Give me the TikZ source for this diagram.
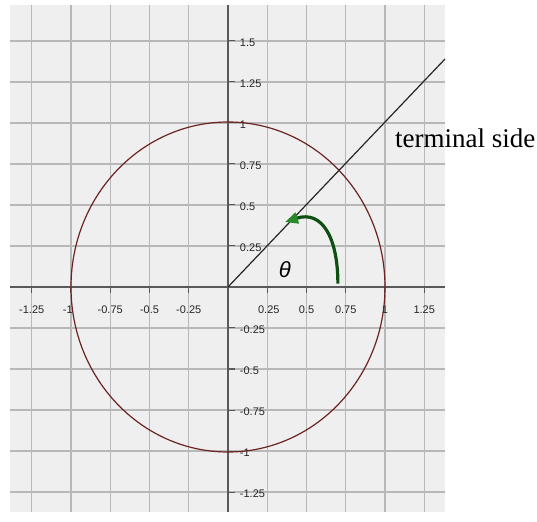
\documentclass[tikz,border=0pt]{standalone}
\usepackage{fontspec}
\setmainfont{Liberation Serif}
\newfontfamily\axisfont{Liberation Sans}
\usetikzlibrary{arrows.meta}
\definecolor{gridbg}{HTML}{EFEFEF}
\definecolor{gridline}{HTML}{B8B8B8}
\definecolor{axiscol}{HTML}{5A5A5A}
\definecolor{circcol}{HTML}{6B2424}
\definecolor{darkgreen}{HTML}{0E4F12}
\definecolor{tipgreen}{HTML}{2A8A2A}
\begin{document}
\begin{tikzpicture}[x=157pt,y=164pt,
  gridln/.style={draw=gridline,line width=1.1pt},
  axisln/.style={draw=axiscol,line width=1.6pt},
  tickln/.style={draw=axiscol,line width=1pt},
  ticklabel/.style={font=\axisfont\fontsize{11}{12}\selectfont,inner sep=0pt,text=black!85},
  unitcirc/.style={draw=circcol,line width=1.2pt},
  termside/.style={draw=black!85,line width=1.2pt},
  anglearrow/.style={draw=darkgreen,line width=3.2pt,-{Triangle[length=13pt,width=11pt,color=tipgreen]}}]
\useasboundingbox[fill=white] (-1.4522,-1.4329) rectangle (1.9682,1.75);
\fill[gridbg] (-1.389,-1.372) rectangle (1.382,1.72);
% grid
\foreach \v in {-1.25,-1,-0.75,-0.5,-0.25,0.25,0.5,0.75,1,1.25}
  \draw[gridln] (\v,-1.372) -- (\v,1.72);
\foreach \v in {-1.25,-1,-0.75,-0.5,-0.25,0.25,0.5,0.75,1,1.25,1.5}
  \draw[gridln] (-1.389,\v) -- (1.382,\v);
% axes
\coordinate (O) at (0,0);
\coordinate (XL) at (-1.389,0);
\coordinate (XR) at (1.382,0);
\coordinate (YB) at (0,-1.372);
\coordinate (YT) at (0,1.72);
\draw[axisln] (XL) -- (XR);
\draw[axisln] (YB) -- (YT);
% ticks
\foreach \v in {-1.25,-1,-0.75,-0.5,-0.25,0.25,0.5,0.75,1,1.25}
  \draw[tickln] (\v,0) -- ++(0pt,-6pt);
\foreach \v in {-1.25,-1,-0.75,-0.5,-0.25,0.25,0.5,0.75,1,1.25,1.5}
  \draw[tickln] (0,\v) -- ++(7pt,0pt);
% x labels
\foreach \v/\t [count=\i] in {-1.25/-1.25,-1.02/-1,-0.75/-0.75,-0.5/-0.5,-0.25/-0.25,0.26/0.25,0.5/0.5,0.75/0.75,1/1,1.25/1.25}
  \node[ticklabel] (xl\i) at (\v,-0.14) {\t};
% y labels
\foreach \v/\t [count=\i] in {1.5/1.5,1.25/1.25,1/1,0.75/0.75,0.5/0.5,0.25/0.25,-0.25/-0.25,-0.5/-0.5,-0.75/-0.75,-1/-1,-1.25/-1.25}
  \node[ticklabel,anchor=west] (yl\i) at (0.075,\v-0.012) {\t};
% unit circle
\draw[unitcirc] (O) ellipse [x radius=157pt, y radius=165pt];
% terminal side
\coordinate (T) at (1.382,1.39);
\draw[termside] (O) -- (T);
% angle arrow
\coordinate (A0) at (0.70,0.02);
\coordinate (A1) at (0.363,0.396);
\draw[anglearrow] (A0) .. controls (0.70,0.30) and (0.60,0.47) .. (A1);
\node[font=\axisfont\itshape\fontsize{22}{24}\selectfont,inner sep=0pt] (theta) at (0.362,0.104) {θ};
\node[anchor=base west,inner sep=0pt,font=\fontsize{27}{30}\selectfont] (lbl) at (1.064,0.848) {terminal side};
\end{tikzpicture}
\end{document}
